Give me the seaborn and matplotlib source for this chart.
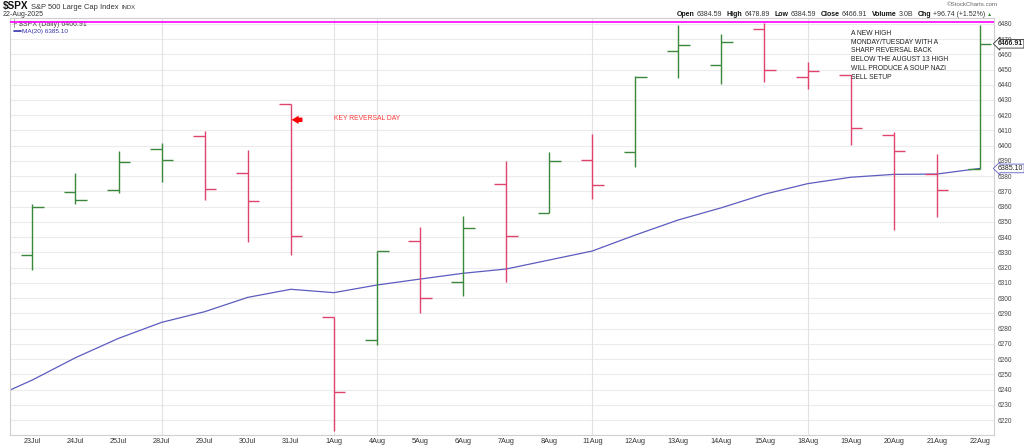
import numpy as np
import pandas as pd
import seaborn as sns
import matplotlib
matplotlib.use("Agg")
import matplotlib.pyplot as plt

# Daily OHLC
dates = ["23Jul", "24Jul", "25Jul", "28Jul", "29Jul", "30Jul", "31Jul", "1Aug",
         "4Aug", "5Aug", "6Aug", "7Aug", "8Aug", "11Aug", "12Aug", "13Aug",
         "14Aug", "15Aug", "18Aug", "19Aug", "20Aug", "21Aug", "22Aug"]
opens = [6328.1, 6369.4, 6370.9, 6397.8, 6406.2, 6381.9, 6427.2, 6287.8,
         6272.5, 6337.3, 6310.4, 6374.7, 6355.7, 6390.4, 6395.9, 6462.2,
         6453.0, 6476.6, 6444.9, 6446.4, 6406.8, 6381.2, 6384.59]
highs = [6361.6, 6382.1, 6396.3, 6401.6, 6409.7, 6397.2, 6427.2, 6287.8,
         6331.1, 6346.9, 6353.7, 6390.2, 6395.9, 6407.7, 6445.7, 6479.2,
         6473.1, 6480.8, 6454.7, 6446.4, 6408.8, 6394.4, 6478.89]
lows = [6318.5, 6361.6, 6369.2, 6376.4, 6364.4, 6337.0, 6328.3, 6212.7,
        6269.2, 6290.0, 6301.6, 6310.8, 6355.7, 6364.8, 6386.2, 6444.6,
        6440.8, 6441.6, 6437.4, 6400.5, 6344.7, 6353.4, 6384.59]
closes = [6359.6, 6364.4, 6389.3, 6390.4, 6371.4, 6363.5, 6340.8, 6238.2,
          6330.7, 6299.9, 6345.8, 6341.0, 6389.8, 6374.0, 6445.3, 6465.9,
          6467.9, 6449.5, 6448.8, 6411.6, 6396.5, 6370.9, 6466.91]

# 20-day moving average (first value is the day before the window)
ma_prev = 6233.6
ma20 = [6246.3, 6260.9, 6273.6, 6284.1, 6291.1, 6300.5, 6305.8, 6303.6,
        6308.6, 6312.5, 6316.3, 6319.1, 6325.0, 6330.9, 6341.4, 6351.3,
        6359.3, 6368.2, 6375.1, 6379.3, 6381.2, 6381.4, 6385.1]

week_marks = ["28Jul", "1Aug", "4Aug", "11Aug", "18Aug"]
ytick_values = list(range(6220, 6490, 10))
high_line = 6481.0

note_text = ("A NEW HIGH\nMONDAY/TUESDAY WITH A\nSHARP REVERSAL BACK\n"
             "BELOW THE AUGUST 13 HIGH\nWILL PRODUCE A SOUP NAZI\nSELL SETUP")

UP = "#3b873b"
DOWN = "#e0436c"
MA_COLOR = "#5c5cc0"

sns.set_style("white")
plt.rcParams["font.family"] = ["Liberation Sans", "DejaVu Sans"]

df = pd.DataFrame({"date": dates, "open": opens, "high": highs,
                   "low": lows, "close": closes})
df["x"] = np.arange(len(df))
prev_close = df["close"].shift(1).fillna(df["open"])
df["color"] = np.where(df["close"] >= prev_close, UP, DOWN)

ma_df = pd.DataFrame({"x": np.arange(-1, len(dates)), "ma": [ma_prev] + ma20})

W, H = 1024, 446
fig = plt.figure(figsize=(W / 100, H / 100), dpi=100)
ax = fig.add_axes([10 / W, 11 / H, 984 / W, 417 / H])

# grid
for v in ytick_values:
    ax.axhline(v, color="#ececec", lw=0.8, zorder=0)
for d in week_marks:
    ax.axvline(dates.index(d), color="#e2e2e2", lw=0.8, zorder=0)

sns.lineplot(data=ma_df, x="x", y="ma", ax=ax, color=MA_COLOR, lw=0.9, zorder=2)

# OHLC bars
tw = 0.27
ax.vlines(df["x"], df["low"], df["high"], colors=df["color"], lw=1.0, zorder=3)
ax.hlines(df["open"], df["x"] - tw, df["x"], colors=df["color"], lw=1.0, zorder=3)
ax.hlines(df["close"], df["x"], df["x"] + tw, colors=df["color"], lw=1.0, zorder=3)

ax.axhline(high_line, color="#ff00ff", lw=1.2, zorder=5)

ax.set_xlim(-0.52, 22.33)
ax.set_ylim(6210.2, 6483.8)
ax.set_xlabel("")
ax.set_ylabel("")

ax.yaxis.tick_right()
ax.set_yticks(ytick_values)
ax.set_yticklabels([str(v) for v in ytick_values])
ax.tick_params(axis="y", length=0, pad=2.5, labelsize=4.7, labelcolor="#444444")
ax.set_xticks(df["x"])
ax.set_xticklabels(dates)
ax.tick_params(axis="x", length=0, pad=2.5, labelsize=5.2, labelcolor="#333333")
for s in ax.spines.values():
    s.set_color("#cfcfcf")
    s.set_linewidth(0.8)

# price tags on the right axis
ytr = ax.get_yaxis_transform()
ax.text(1.004, closes[-1], f"{closes[-1]:.2f}", transform=ytr, ha="left", va="center",
        fontsize=5, fontweight="bold", color="#222222", zorder=10, clip_on=False,
        bbox=dict(boxstyle="larrow,pad=0.12", fc="white", ec="#333333", lw=0.6))
ax.text(1.004, ma20[-1], f"{ma20[-1]:.2f}", transform=ytr, ha="left", va="center",
        fontsize=5, color="#222222", zorder=10, clip_on=False,
        bbox=dict(boxstyle="larrow,pad=0.12", fc="white", ec=MA_COLOR, lw=0.6))

# legend inside the panel
axf = ax.transAxes
ax.text(0.002, 0.987, "\u251c \\$SPX (Daily) 6466.91", transform=axf, ha="left",
        va="center", fontsize=5, color="#444444", zorder=4)
ax.plot([0.004, 0.011], [0.968, 0.968], transform=axf, color="#3333aa", lw=1.2, zorder=4)
ax.text(0.012, 0.968, "MA(20) 6385.10", transform=axf, ha="left", va="center",
        fontsize=4.6, color="#3333aa", zorder=4)

# annotations
i31 = dates.index("31Jul")
ax.annotate("", xy=(i31 + 0.02, 6417), xytext=(i31 + 0.27, 6417),
            arrowprops=dict(arrowstyle="simple,head_length=0.5,head_width=0.6,tail_width=0.32",
                            color="red", lw=0, shrinkA=0, shrinkB=0), zorder=6)
ax.text(i31 + 1.0, 6418, "KEY REVERSAL DAY", ha="left", va="center",
        fontsize=4.9, color="#ff3b3b", zorder=6)
ax.text(dates.index("19Aug"), 6476, note_text, ha="left", va="top",
        fontsize=4.9, color="#222222", linespacing=1.35, zorder=6)


def chain(pieces, x0, y0):
    """Lay out text pieces left to right in figure pixels."""
    prev = fig.text(x0 / W, y0 / H, pieces[0][0], fontsize=pieces[0][1],
                    fontweight=pieces[0][2], color=pieces[0][3], va="baseline")
    for txt, size, weight, color, gap in pieces[1:]:
        prev = fig.add_artist(plt.Annotation(
            txt, xy=(1, y0), xycoords=(prev, "figure pixels"),
            xytext=(gap, 0), textcoords="offset points", fontsize=size,
            fontweight=weight, color=color, va="baseline", ha="left"))
    return prev


# header
chain([("\\$SPX", 7.2, "bold", "#111111"),
       ("S&P 500 Large Cap Index", 5.4, "normal", "#333333", 2.0),
       ("INDX", 4.2, "normal", "#333333", 2.0)], 3, H - 9)
fig.text(3 / W, 1 - 15 / H, "22-Aug-2025", fontsize=5, color="#333333", va="center")
fig.text(998 / W, 1 - 5 / H, "\u00a9StockCharts.com", fontsize=4.4, color="#666666",
         ha="right", va="center")
hdr = 5.0
chain([("Open", hdr, "bold", "#111111"),
       ("6384.59", hdr, "normal", "#333333", 1.5),
       ("High", hdr, "bold", "#111111", 3.2),
       ("6478.89", hdr, "normal", "#333333", 1.5),
       ("Low", hdr, "bold", "#111111", 3.2),
       ("6384.59", hdr, "normal", "#333333", 1.5),
       ("Close", hdr, "bold", "#111111", 3.2),
       ("6466.91", hdr, "normal", "#333333", 1.5),
       ("Volume", hdr, "bold", "#111111", 3.2),
       ("3.0B", hdr, "normal", "#333333", 1.5),
       ("Chg", hdr, "bold", "#111111", 3.2),
       ("+96.74 (+1.52%)", hdr, "normal", "#333333", 1.5),
       ("\u25b2", 3.8, "normal", UP, 1.5)], 677, H - 16)

fig.savefig("out.png", dpi=100)
